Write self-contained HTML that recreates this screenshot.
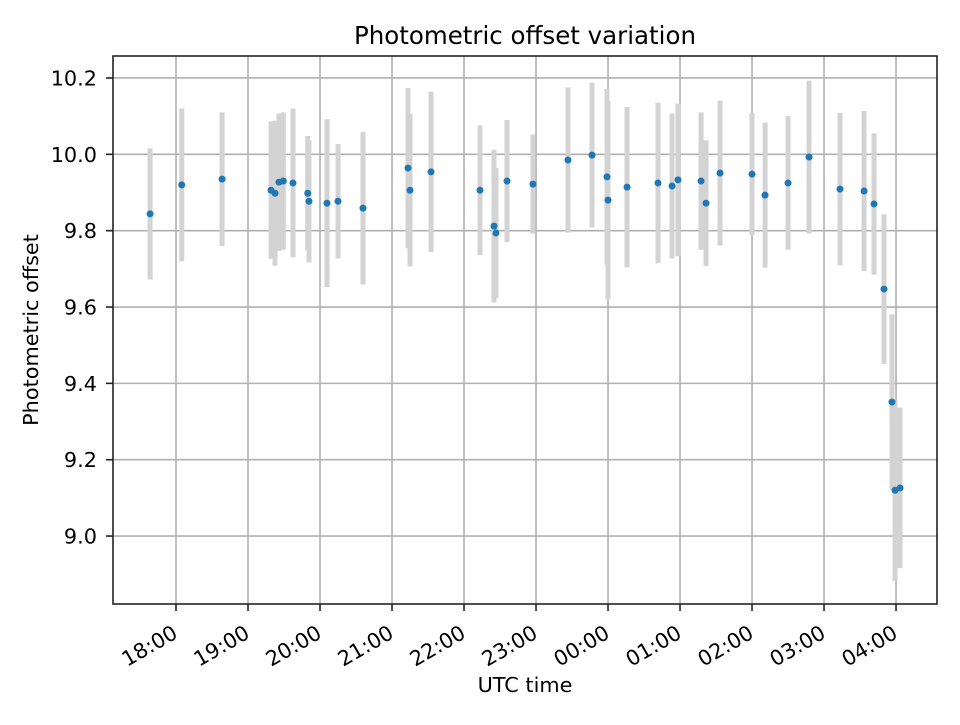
<!DOCTYPE html>
<html><head><meta charset="utf-8"><style>
html,body{margin:0;padding:0;background:#fff;}
svg text{font-family:"DejaVu Sans","Liberation Sans",sans-serif;fill:#000;}
</style></head><body>
<svg id="chart" width="960" height="720" viewBox="0 0 960 720" xmlns="http://www.w3.org/2000/svg">
<rect width="960" height="720" fill="#fff"/>
<g id="grid"></g>
<g id="errs"></g>
<g id="pts"></g>
<g id="axes"></g>
</svg>
<script>
// hours since 18:00 UTC
const times = [-0.36,0.08,0.64,1.32,1.375,1.43,1.49,1.625,1.83,1.847,2.097,2.25,2.597,3.222,3.25,3.542,4.222,4.417,4.444,4.597,4.958,5.444,5.778,5.986,6.0,6.264,6.694,6.889,6.972,7.292,7.361,7.556,8.0,8.181,8.5,8.792,9.222,9.556,9.694,9.833,9.944,9.986,10.056];
const offsets = [9.844,9.920,9.935,9.906,9.898,9.927,9.930,9.925,9.898,9.877,9.872,9.877,9.859,9.964,9.906,9.954,9.906,9.812,9.794,9.930,9.922,9.985,9.998,9.941,9.880,9.914,9.925,9.917,9.933,9.930,9.872,9.951,9.948,9.893,9.925,9.993,9.909,9.904,9.870,9.647,9.351,9.120,9.126];
const errors = [0.172,0.20,0.175,0.18,0.19,0.18,0.18,0.195,0.15,0.16,0.22,0.15,0.2,0.21,0.2,0.21,0.17,0.2,0.17,0.16,0.13,0.19,0.19,0.23,0.26,0.21,0.21,0.19,0.2,0.18,0.165,0.19,0.16,0.19,0.175,0.2,0.2,0.21,0.185,0.196,0.23,0.238,0.21];
const yTicks = [9.0,9.2,9.4,9.6,9.8,10.0,10.2];
const yTickLabels = ["9.0","9.2","9.4","9.6","9.8","10.0","10.2"];
const xTicks = [0,1,2,3,4,5,6,7,8,9,10];
const xTickLabels = ["18:00","19:00","20:00","21:00","22:00","23:00","00:00","01:00","02:00","03:00","04:00"];

const L=113,R=937,T=56,B=604;
const xMin=-0.875,xMax=10.569,yMin=8.822,yMax=10.2576;
const X=h=>L+(h-xMin)/(xMax-xMin)*(R-L);
const Y=v=>B-(v-yMin)/(yMax-yMin)*(B-T);
const NS="http://www.w3.org/2000/svg";
function mk(tag,parent,attrs){const e=document.createElementNS(NS,tag);for(const k in attrs)e.setAttribute(k,attrs[k]);document.getElementById(parent).appendChild(e);return e;}

xTicks.forEach((t,i)=>{
  const g=mk('line','grid',{x1:X(t),x2:X(t),y1:T,y2:B,stroke:'#b0b0b0','stroke-width':1.6});
  
  
  const tk=mk('line','axes',{x1:X(t),x2:X(t),y1:B,y2:B+7,stroke:'#222','stroke-width':1.6});
  
  
  const tx=X(t)+3, ty=637;
  const lb=mk('text','axes',{x:tx,y:ty,'font-size':20.8,'text-anchor':'end',transform:`rotate(-30 ${tx} ${ty})`});
  lb.textContent=xTickLabels[i];
  
  
});
yTicks.forEach((t,i)=>{
  const g=mk('line','grid',{x1:L,x2:R,y1:Y(t),y2:Y(t),stroke:'#b0b0b0','stroke-width':1.6});
  
  
  const tk=mk('line','axes',{x1:L-7,x2:L,y1:Y(t),y2:Y(t),stroke:'#222','stroke-width':1.6});
  
  
  const lb=mk('text','axes',{x:97,y:Y(t)+7.5,'font-size':20.8,'text-anchor':'end'});
  lb.textContent=yTickLabels[i];
  
  
});
times.forEach((t,i)=>{
  const e=mk('line','errs',{x1:X(t),x2:X(t),y1:Y(offsets[i]+errors[i]),y2:Y(offsets[i]-errors[i]),stroke:'#d3d3d3','stroke-width':5});
  
  
  const c=mk('circle','pts',{cx:X(t),cy:Y(offsets[i]),r:3.5,fill:'#1f77b4'});
  
  
});
const fr=mk('rect','axes',{x:L,y:T,width:R-L,height:B-T,fill:'none',stroke:'#222','stroke-width':1.6});


const ti=mk('text','axes',{x:(L+R)/2,y:44,'font-size':24.5,'text-anchor':'middle'});
ti.textContent='Photometric offset variation';


const xl=mk('text','axes',{x:(L+R)/2,y:692,'font-size':20.8,'text-anchor':'middle'});
xl.textContent='UTC time';


const yl=mk('text','axes',{x:38,y:330,'font-size':20.8,'text-anchor':'middle',transform:'rotate(-90 38 330)'});
yl.textContent='Photometric offset';


</script>
</body></html>
